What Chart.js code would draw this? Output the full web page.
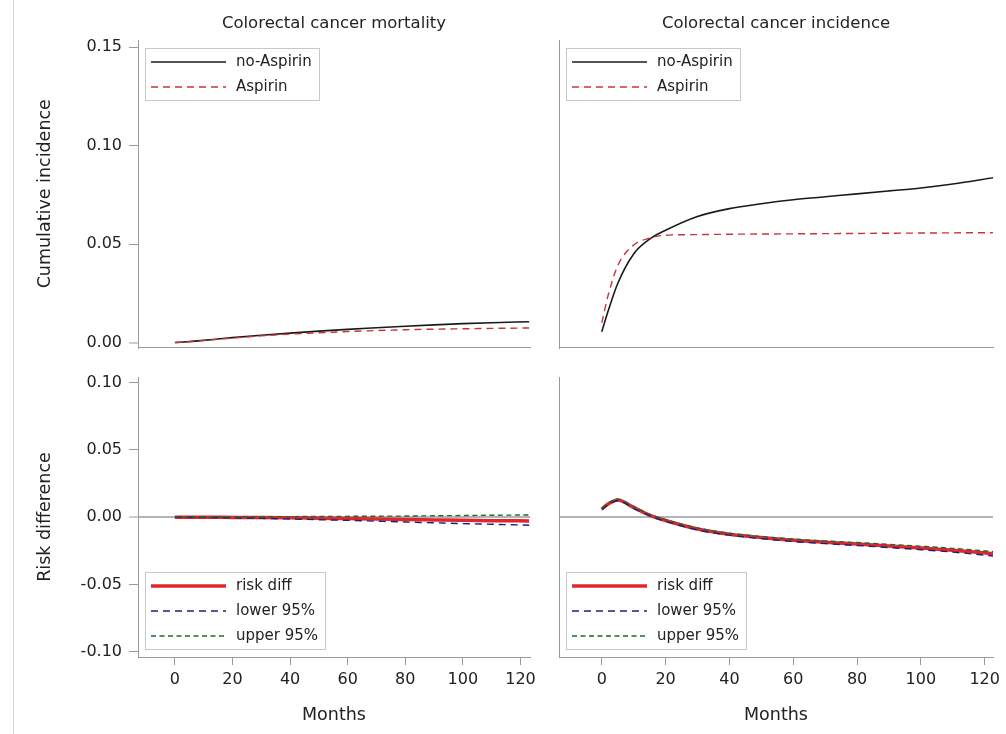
<!DOCTYPE html>
<html>
<head>
<meta charset="utf-8">
<script src="https://cdn.jsdelivr.net/npm/chart.js@4.4.0/dist/chart.umd.min.js"></script>
<style>
html, body { margin: 0; padding: 0; background: #fff; }
#wrap { position: relative; width: 1006px; height: 734px; overflow: hidden; }
#wrap canvas { position: absolute; left: 0; top: 0; }
#edge { position: absolute; left: 13px; top: 0; width: 1px; height: 734px; background: #d6d6d6; }
</style>
</head>
<body>
<div id="wrap">
  <div id="edge"></div>
  <canvas id="tl" width="1006" height="734"></canvas>
  <canvas id="tr" width="1006" height="734"></canvas>
  <canvas id="bl" width="1006" height="734"></canvas>
  <canvas id="br" width="1006" height="734"></canvas>
</div>
<script>
var months = [0, 2, 5, 10, 15, 20, 30, 40, 50, 60, 70, 80, 90, 100, 110, 123];
var monthTicks = [0, 20, 40, 60, 80, 100, 120];
var cumTicks = [0, 0.05, 0.10, 0.15];
var diffTicks = [-0.10, -0.05, 0, 0.05, 0.10];

// colorectal cancer mortality, cumulative incidence
var mortNoAspirin = [0, 0.0002, 0.0005, 0.0011, 0.0018, 0.0025, 0.0037, 0.0048, 0.0058, 0.0067, 0.0075, 0.0083, 0.0090, 0.0096, 0.0101, 0.0106];
var mortAspirin   = [0, 0.0002, 0.0005, 0.0011, 0.0017, 0.0023, 0.0034, 0.0043, 0.0050, 0.0056, 0.0061, 0.0065, 0.0068, 0.0070, 0.0072, 0.0074];
// colorectal cancer incidence, cumulative incidence
var incNoAspirin = [0.0055, 0.016, 0.030, 0.045, 0.0525, 0.057, 0.064, 0.068, 0.0705, 0.0725, 0.074, 0.0755, 0.077, 0.0785, 0.0805, 0.0838];
var incAspirin   = [0.010, 0.024, 0.039, 0.0495, 0.053, 0.0545, 0.0548, 0.055, 0.0551, 0.0552, 0.0553, 0.0554, 0.0555, 0.0556, 0.0557, 0.0558];
// risk differences
var mortDiff  = [0, 0, 0, 0, -0.0001, -0.0002, -0.0003, -0.0005, -0.0008, -0.0011, -0.0014, -0.0018, -0.0021, -0.0024, -0.0026, -0.0028];
var mortLower = [0, 0, -0.0001, -0.0002, -0.0003, -0.0005, -0.0009, -0.0014, -0.0019, -0.0024, -0.0030, -0.0036, -0.0042, -0.0048, -0.0053, -0.0060];
var mortUpper = [0, 0, 0, 0.0001, 0.0001, 0.0002, 0.0003, 0.0004, 0.0005, 0.0006, 0.0007, 0.0008, 0.0010, 0.0012, 0.0014, 0.0016];
var incDiff  = [0.0060, 0.0098, 0.0128, 0.0072, 0.0015, -0.0025, -0.0088, -0.0127, -0.0152, -0.0172, -0.0187, -0.0200, -0.0214, -0.0229, -0.0246, -0.0273];
var incLower = [0.0055, 0.0093, 0.0122, 0.0066, 0.0009, -0.0031, -0.0095, -0.0134, -0.0160, -0.0181, -0.0197, -0.0211, -0.0226, -0.0242, -0.0260, -0.0290];
var incUpper = [0.0065, 0.0103, 0.0134, 0.0078, 0.0021, -0.0019, -0.0081, -0.0120, -0.0144, -0.0163, -0.0177, -0.0189, -0.0202, -0.0216, -0.0232, -0.0257];

var FONT = '"DejaVu Sans", "Liberation Sans", Arial, sans-serif';
var axisGray = '#9a9a9a';
var zeroGray = '#b4b4b4';
var textCol = '#222';

// legend drawn as a framed box inside the plot area
var boxLegend = {
    id: 'boxLegend',
    afterDatasetsDraw: function(chart, args, opts) {
        var ctx = chart.ctx, a = chart.chartArea;
        var sets = chart.data.datasets;
        var h = 27 + 25 * (sets.length - 1);
        var x0 = Math.round(a.left + 7);
        var y0 = Math.round(opts.corner === 'top' ? a.top + 8 : a.bottom - 8.5 - h);
        ctx.save();
        ctx.font = '15px ' + FONT;
        var tw = 0;
        sets.forEach(function(d) { tw = Math.max(tw, ctx.measureText(d.label).width); });
        var w = Math.round(91 + tw + 7);
        ctx.fillStyle = '#fff';
        ctx.fillRect(x0, y0, w, h);
        ctx.strokeStyle = '#c8c8c8';
        ctx.lineWidth = 1;
        ctx.strokeRect(x0 + 0.5, y0 + 0.5, w, h);
        sets.forEach(function(d, i) {
            var y = y0 + 14 + 25 * i;
            ctx.beginPath();
            ctx.setLineDash(d.borderDash || []);
            ctx.strokeStyle = d.borderColor;
            ctx.lineWidth = d.borderWidth;
            ctx.moveTo(x0 + 6, y);
            ctx.lineTo(x0 + 81, y);
            ctx.stroke();
            ctx.setLineDash([]);
            ctx.fillStyle = textCol;
            ctx.textBaseline = 'middle';
            ctx.textAlign = 'left';
            ctx.fillText(d.label, x0 + 91, y + 0.5);
        });
        ctx.restore();
    }
};

function lineSet(label, values, color, width, dash, order) {
    return {
        label: label,
        data: months.map(function(m, i) { return {x: m, y: values[i]}; }),
        borderColor: color,
        borderWidth: width,
        borderDash: dash,
        pointRadius: 0,
        fill: false,
        cubicInterpolationMode: 'monotone',
        order: order
    };
}

function xScale(min, max, showTicks) {
    return {
        type: 'linear', position: 'bottom', min: min, max: max,
        afterBuildTicks: function(s) { s.ticks = monthTicks.map(function(v) { return {value: v}; }); },
        afterFit: function(s) { s.height = showTicks ? 77 : 0; },
        border: {display: true, color: axisGray, width: 1},
        grid: {display: showTicks, drawOnChartArea: false, drawTicks: showTicks, tickLength: 8, tickColor: axisGray, tickWidth: 1},
        ticks: {display: showTicks, padding: 5, color: textCol, font: {family: FONT, size: 16}, maxRotation: 0, autoSkip: false},
        title: {display: showTicks, text: 'Months', color: textCol, font: {family: FONT, size: 17.5}, padding: {top: 0, bottom: 8.5}}
    };
}

function topTitle(text) {
    return {
        type: 'linear', position: 'top', display: true,
        afterFit: function(s) { s.height = 40; },
        border: {display: false},
        grid: {display: false, drawTicks: false},
        ticks: {display: false},
        title: {display: true, text: text, color: textCol, font: {family: FONT, size: 16.5}, padding: {top: 14, bottom: 0}}
    };
}

function yScale(min, max, tickVals, width, showLabels, title, zeroLine) {
    return {
        type: 'linear', position: 'left', min: min, max: max,
        afterBuildTicks: function(s) { s.ticks = tickVals.map(function(v) { return {value: v}; }); },
        afterFit: function(s) { s.width = width; },
        border: {display: true, color: axisGray, width: 1},
        grid: {
            display: showLabels || zeroLine,
            drawOnChartArea: zeroLine,
            drawTicks: showLabels,
            tickLength: 9, tickColor: axisGray, tickWidth: 1,
            color: function(c) { return (c.tick && Math.abs(c.tick.value) < 1e-9) ? zeroGray : 'rgba(0,0,0,0)'; },
            lineWidth: function(c) { return (c.tick && Math.abs(c.tick.value) < 1e-9) ? 2 : 1; }
        },
        ticks: {display: showLabels, padding: 7, color: textCol, font: {family: FONT, size: 16},
                callback: function(v) { return Number(v).toFixed(2); }},
        title: {display: !!title, text: title || '', color: textCol, font: {family: FONT, size: 17.5}, padding: {top: 34.5, bottom: 0}}
    };
}

function panel(id, datasets, padding, scales, legendCorner) {
    new Chart(document.getElementById(id), {
        type: 'line',
        data: {datasets: datasets},
        options: {
            responsive: false,
            animation: false,
            events: [],
            layout: {padding: padding, autoPadding: false},
            plugins: {legend: {display: false}, tooltip: {enabled: false}, boxLegend: {corner: legendCorner}},
            scales: scales
        },
        plugins: [boxLegend]
    });
}

var leftX = [-12.8, 123.3];
var rightX = [-13.4, 122.6];
var cumRange = [-0.0025, 0.1536];
var diffRange = [-0.104, 0.1042];

panel('tl',
    [lineSet('no-Aspirin', mortNoAspirin, '#1a1a1a', 1.6, [], 2),
     lineSet('Aspirin', mortAspirin, '#c9333d', 1.4, [7, 5], 1)],
    {left: 0, top: 0, right: 476, bottom: 386.5},
    {x: xScale(leftX[0], leftX[1], false), xt: topTitle('Colorectal cancer mortality'),
     y: yScale(cumRange[0], cumRange[1], cumTicks, 138, true, 'Cumulative incidence', false)},
    'top');

panel('tr',
    [lineSet('no-Aspirin', incNoAspirin, '#1a1a1a', 1.6, [], 2),
     lineSet('Aspirin', incAspirin, '#c9333d', 1.4, [7, 5], 1)],
    {left: 0, top: 0, right: 13, bottom: 386.5},
    {x: xScale(rightX[0], rightX[1], false), xt: topTitle('Colorectal cancer incidence'),
     y: yScale(cumRange[0], cumRange[1], cumTicks, 559, false, '', false)},
    'top');

panel('bl',
    [lineSet('risk diff', mortDiff, '#e0262e', 3.5, [], 3),
     lineSet('lower 95%', mortLower, '#1f1f78', 1.4, [7, 5], 2),
     lineSet('upper 95%', mortUpper, '#1d6b2c', 1.4, [5, 3.5], 1)],
    {left: 0, top: 377, right: 476, bottom: 0},
    {x: xScale(leftX[0], leftX[1], true),
     y: yScale(diffRange[0], diffRange[1], diffTicks, 138, true, 'Risk difference', true)},
    'bottom');

panel('br',
    [lineSet('risk diff', incDiff, '#e0262e', 3.5, [], 3),
     lineSet('lower 95%', incLower, '#1f1f78', 1.4, [7, 5], 2),
     lineSet('upper 95%', incUpper, '#1d6b2c', 1.4, [5, 3.5], 1)],
    {left: 0, top: 377, right: 13, bottom: 0},
    {x: xScale(rightX[0], rightX[1], true),
     y: yScale(diffRange[0], diffRange[1], diffTicks, 559, false, '', true)},
    'bottom');
</script>
</body>
</html>
